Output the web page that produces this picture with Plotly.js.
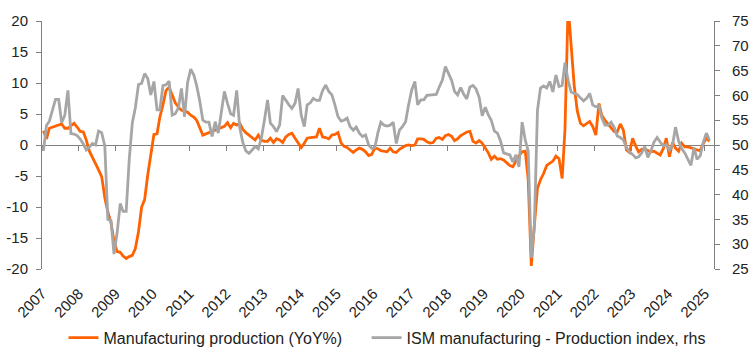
<!DOCTYPE html>
<html>
<head>
<meta charset="utf-8">
<script src="https://cdn.plot.ly/plotly-3.0.1.min.js"></script>
<style>html,body{margin:0;padding:0;background:#fff;}#chart{width:750px;height:354px;}</style>
</head>
<body>
<div id="chart"></div>
<script>
// Monthly data, Jan 2007 .. Feb 2025
const startYear = 2007;
const mfgYoY = [
 2.3,1.0,2.7,2.9,3.1,3.2,3.4,2.7,2.7,3.1,3.5,2.9,
 2.2,2.1,0.8,-1.0,-1.9,-3.0,-4.0,-5.1,-8.5,-10.8,-12.5,-15.5,
 -17.2,-17.3,-17.9,-18.3,-18.0,-17.8,-16.7,-14.0,-10.0,-8.8,-4.8,-1.5,
 1.7,1.8,4.5,6.5,8.8,9.3,8.0,6.8,6.1,5.6,5.5,5.3,
 4.8,4.5,4.0,2.7,1.6,1.8,2.0,2.2,2.4,2.5,2.7,3.0,
 3.6,2.8,3.5,3.2,3.5,2.5,2.0,1.6,1.3,0.8,1.6,0.8,
 0.6,0.6,1.1,0.4,1.0,0.8,0.4,1.3,1.7,1.9,1.1,0.3,
 -0.4,0.3,1.1,1.2,1.2,1.3,2.7,1.3,1.2,1.0,1.6,1.7,
 2.0,0.3,-0.2,-0.4,-0.8,-1.2,-0.8,-0.5,-0.7,-1.1,-1.7,-1.5,
 -0.5,-0.6,-0.9,-1.0,-1.1,-0.5,-1.1,-1.2,-0.7,-0.4,-0.1,0.0,
 -0.1,0.0,1.0,1.0,0.9,0.5,0.3,0.4,1.1,1.2,0.9,1.5,
 1.7,1.4,0.7,1.0,1.5,1.8,2.1,2.2,0.6,0.3,0.7,0.3,
 -0.5,-1.3,-2.3,-1.8,-2.3,-2.2,-2.4,-2.9,-3.3,-3.5,-2.6,-1.7,
 -1.1,-1.0,-5.5,-19.5,-13.0,-7.0,-5.6,-4.6,-3.3,-3.0,-2.6,-1.8,
 -2.2,-5.4,2.5,22.5,15.5,9.5,5.5,3.5,3.1,3.4,3.8,3.0,
 1.6,6.7,4.8,4.0,3.4,2.9,2.2,2.1,3.4,2.4,-0.8,-1.2,
 1.1,-0.2,-1.1,-0.7,-0.6,-0.9,-1.1,-1.0,-1.3,-1.6,-0.6,1.1,
 -1.9,0.4,-0.5,-1.0,0.3,-0.3,-0.3,-0.4,-0.6,-0.8,-0.9,0.2,
 1.1,0.6
];
const ismProduction = [
 48.8,54.0,54.8,57.0,59.2,59.2,54.5,56.0,61.0,52.3,52.2,51.9,
 51.2,50.2,49.0,49.6,50.3,50.0,52.8,52.5,49.8,35.0,34.8,28.0,
 32.3,38.2,36.6,36.6,47.0,54.5,57.5,62.2,62.4,64.4,63.4,60.1,
 62.8,57.1,57.1,62.0,62.1,62.9,56.0,56.3,57.5,61.4,55.7,62.6,
 65.3,64.1,62.0,58.8,55.0,54.6,54.6,51.7,54.7,52.4,56.7,60.8,
 58.4,56.3,56.0,61.0,53.5,50.5,48.8,48.3,49.0,49.7,49.2,51.3,
 55.0,59.1,54.4,53.7,52.7,54.0,60.0,59.0,58.1,57.4,58.4,61.4,
 56.0,53.7,58.1,58.5,59.4,59.0,59.0,61.0,62.1,60.8,60.1,58.1,
 55.7,54.8,55.0,55.4,53.7,53.0,53.6,52.4,51.7,52.0,50.0,49.3,
 49.5,52.5,54.6,54.0,53.8,54.0,54.6,50.3,53.0,53.7,54.7,58.1,
 61.1,62.8,58.1,59.1,59.1,60.0,60.1,60.1,60.2,61.7,63.1,65.8,
 64.2,63.0,60.8,60.1,61.6,60.2,59.3,61.7,62.0,61.3,59.6,55.9,
 57.6,56.0,55.0,52.8,52.4,50.8,48.4,48.2,48.0,46.6,48.0,45.6,
 54.6,51.0,48.8,27.3,33.5,57.0,61.5,61.9,61.5,62.8,60.7,64.1,
 61.8,62.0,66.6,63.0,60.7,60.4,60.2,59.5,58.9,59.4,60.4,58.1,
 57.7,57.9,55.5,54.0,54.0,54.6,53.6,51.8,51.5,51.0,49.5,48.6,
 48.1,47.4,47.6,48.4,49.7,47.5,48.8,50.6,51.5,50.6,49.8,50.1,
 49.0,50.0,53.6,50.8,49.3,48.4,47.3,45.9,49.5,47.1,47.8,50.5,
 52.4,51.0
];
const yearLabels = ['2007','2008','2009','2010','2011','2012','2013','2014','2015','2016','2017','2018','2019','2020','2021','2022','2023','2024','2025'];
const leftTicks = [-20,-15,-10,-5,0,5,10,15,20];
const leftTickText = ['-20','-15','-10','-5','0','5','10','15','20'];
const rightTicks = [25,30,35,40,45,50,55,60,65,70,75];
const rightTickText = ['25','30','35','40','45','50','55','60','65','70','75'];
const seriesNames = ['Manufacturing production (YoY%)', 'ISM manufacturing - Production index, rhs'];

const months = mfgYoY.map((_, i) => {
  const y = startYear + Math.floor(i / 12);
  const m = (i % 12) + 1;
  return y + '-' + String(m).padStart(2, '0') + '-15';
});
const yearTickVals = yearLabels.map(y => y + '-01-01');
const xRange = ['2007-01-01', '2025-04-01'];

const FONT = 'Liberation Sans, Arial, sans-serif';
const AXIS = '#808080';

const traces = [
  {x: months, y: mfgYoY, type: 'scatter', mode: 'lines', name: seriesNames[0],
   line: {color: '#FF6200', width: 2.8}, xaxis: 'x', yaxis: 'y', legend: 'legend'},
  {x: months, y: ismProduction, type: 'scatter', mode: 'lines', name: seriesNames[1],
   line: {color: '#A6A6A6', width: 2.8}, xaxis: 'x', yaxis: 'y2', legend: 'legend2'},
  {x: [], y: [], type: 'scatter', mode: 'lines', xaxis: 'x2', yaxis: 'y', showlegend: false, hoverinfo: 'skip'}
];

const legendBase = {orientation: 'h', xanchor: 'left', xref: 'paper', y: 0.094, yanchor: 'top', yref: 'container',
                    font: {size: 16, color: '#222', family: FONT}, bgcolor: 'rgba(0,0,0,0)'};

const layout = {
  width: 750, height: 354,
  margin: {l: 42, r: 36, t: 21, b: 85, autoexpand: false},
  paper_bgcolor: '#ffffff', plot_bgcolor: '#ffffff',
  font: {family: FONT, color: '#222'},
  showlegend: true,
  legend: Object.assign({}, legendBase, {x: 0.032}),
  legend2: Object.assign({}, legendBase, {x: 0.483}),
  xaxis: {type: 'date', range: xRange, tickmode: 'array', tickvals: yearTickVals, ticktext: yearLabels,
          tickangle: -45, ticks: '', showline: false, showgrid: false, zeroline: false,
          tickfont: {size: 15, color: '#222'}, ticklabelstandoff: 12, automargin: false, fixedrange: true},
  xaxis2: {type: 'date', range: xRange, overlaying: 'x', anchor: 'free', position: 0.5, side: 'bottom',
           tickmode: 'array', tickvals: yearTickVals, showticklabels: false,
           showline: true, linecolor: AXIS, linewidth: 1, ticks: 'outside', ticklen: 5, tickcolor: AXIS, tickwidth: 1,
           showgrid: false, zeroline: false, layer: 'below traces', automargin: false},
  yaxis: {range: [-20, 20], tickmode: 'array', tickvals: leftTicks, ticktext: leftTickText,
          showline: true, linecolor: AXIS, linewidth: 1, ticks: 'outside', ticklen: 5, tickcolor: AXIS,
          showgrid: false, zeroline: false, tickfont: {size: 15, color: '#222'}, automargin: false, ticklabelstandoff: 5},
  yaxis2: {range: [25, 75], overlaying: 'y', side: 'right', tickmode: 'array', tickvals: rightTicks, ticktext: rightTickText,
           showline: true, linecolor: AXIS, linewidth: 1, ticks: 'outside', ticklen: 5, tickcolor: AXIS,
           showgrid: false, zeroline: false, tickfont: {size: 15, color: '#222'}, automargin: false, ticklabelstandoff: 9}
};

Plotly.newPlot('chart', traces, layout, {displayModeBar: false, staticPlot: true});
</script>
</body>
</html>
